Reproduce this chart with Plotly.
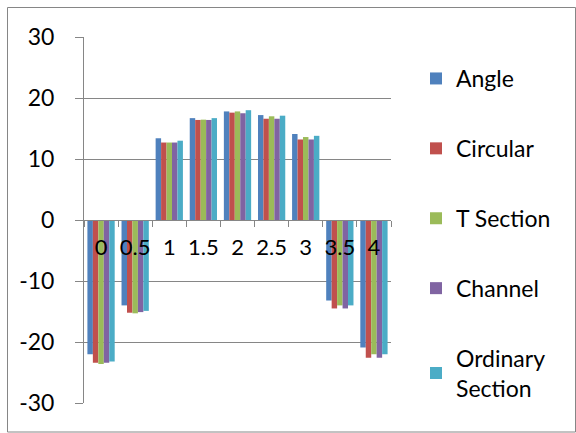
import plotly.graph_objects as go

categories = ["0", "0.5", "1", "1.5", "2", "2.5", "3", "3.5", "4"]
angle = [-22.0, -14.0, 13.4, 16.7, 17.8, 17.2, 14.1, -13.2, -20.9]
circular = [-23.4, -15.2, 12.7, 16.4, 17.6, 16.6, 13.2, -14.5, -22.6]
t_section = [-23.6, -15.3, 12.7, 16.45, 17.8, 17.0, 13.6, -14.0, -22.0]
channel = [-23.4, -15.1, 12.7, 16.4, 17.5, 16.6, 13.2, -14.5, -22.6]
ordinary = [-23.2, -14.9, 13.0, 16.7, 18.0, 17.1, 13.8, -14.0, -22.0]
y_ticks = [-30, -20, -10, 0, 10, 20, 30]
y_tick_labels = ["-30", "-20", "-10", "0", "10", "20", "30"]

series = [
    ("Angle", angle, "#4F81BD"),
    ("Circular", circular, "#C0504D"),
    ("T Section", t_section, "#9BBB59"),
    ("Channel", channel, "#8064A2"),
    ("Ordinary<br>Section", ordinary, "#4BACC6"),
]

FONT = "Lato, 'Open Sans', sans-serif"
GRID = "#868686"

fig = go.Figure()
for i, (name, vals, col) in enumerate(series):
    fig.add_trace(go.Bar(
        x=categories, y=vals, name=name, marker=dict(color=col, line=dict(width=0)),
        legendgroup=f"g{i}",
    ))

L, R, T, B = 84, 185, 37, 30
W, H = 576, 433
pw, ph = W - L - R, H - T - B

fig.update_layout(
    width=W, height=H,
    margin=dict(l=L, r=R, t=T, b=B, autoexpand=False),
    paper_bgcolor="white", plot_bgcolor="white",
    barmode="group", bargap=0.2, bargroupgap=0,
    font=dict(family=FONT, size=20, color="#000"),
    legend=dict(
        x=(416 - L) / pw, y=(H - B - 57) / ph, xanchor="left", yanchor="top",
        font=dict(family=FONT, size=23, color="#000"),
        tracegroupgap=37, traceorder="grouped", itemwidth=30,
        bgcolor="rgba(0,0,0,0)",
    ),
    xaxis=dict(
        type="category", anchor="free", position=0.5,
        showline=True, linecolor=GRID, linewidth=1,
        ticks="outside", ticklen=6, tickcolor=GRID, tickson="boundaries",
        showgrid=False, tickangle=0,
        tickfont=dict(family=FONT, size=22, color="#000"),
        ticklabelstandoff=8,
    ),
    yaxis=dict(
        range=[-30, 30], tickvals=y_ticks, ticktext=y_tick_labels,
        showline=True, linecolor=GRID, linewidth=1,
        ticks="outside", ticklen=8, tickcolor=GRID,
        showgrid=True, gridcolor=GRID, gridwidth=1,
        zeroline=False,
        tickfont=dict(family=FONT, size=23, color="#000"),
        ticklabelstandoff=16,
    ),
    shapes=[dict(
        type="rect", xref="paper", yref="paper",
        x0=(7.5 - L) / pw, x1=(575.5 - L) / pw,
        y0=(H - B - 432) / ph, y1=(H - B - 7.5) / ph,
        line=dict(color=GRID, width=1), fillcolor="rgba(0,0,0,0)", layer="below",
    )],
)

fig.write_html(
    "out.html",
    config={"displayModeBar": False},
    post_script="document.body.style.margin='0px';document.body.style.overflow='hidden';",
)
